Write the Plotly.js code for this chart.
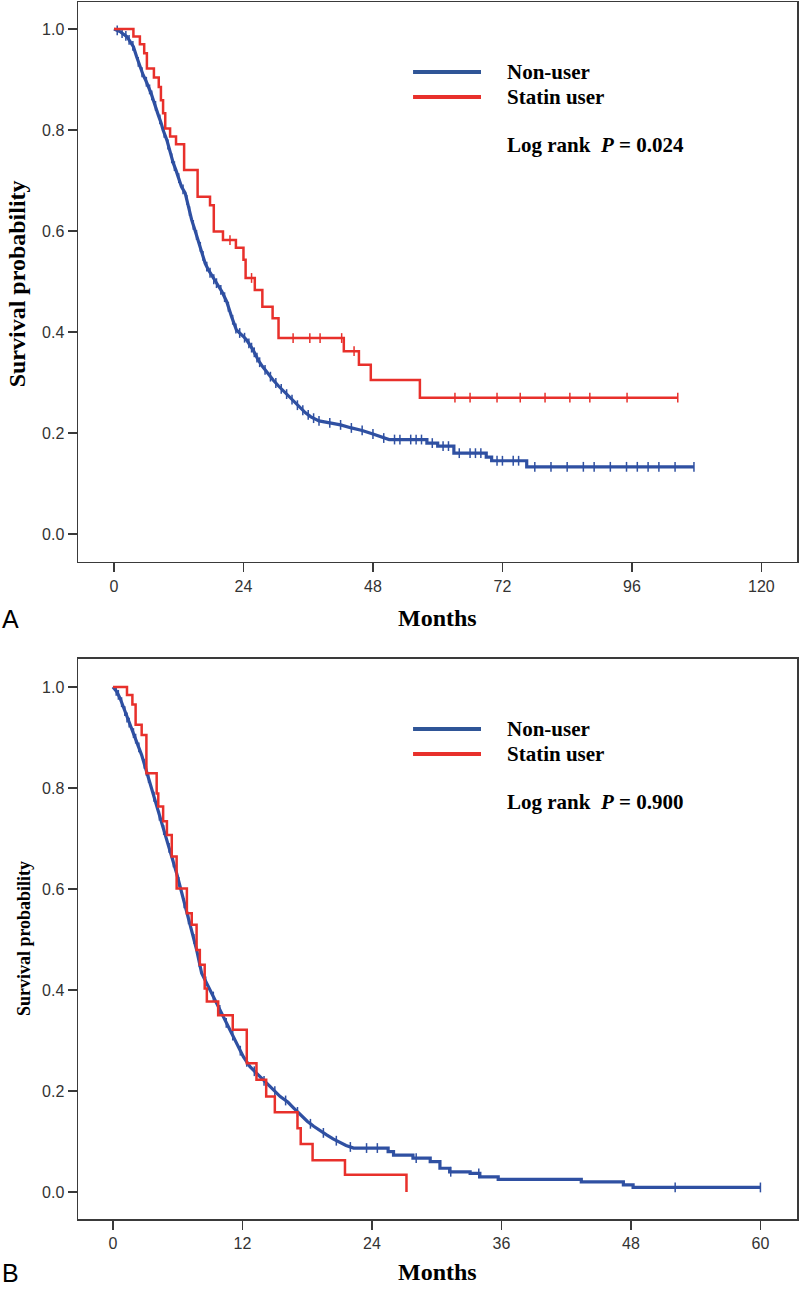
<!DOCTYPE html>
<html>
<head>
<meta charset="utf-8">
<script src="https://cdn.plot.ly/plotly-3.0.1.min.js"></script>
<style>html,body{margin:0;padding:0;background:#fff;}#chart{width:800px;height:1289px;}</style>
</head>
<body>
<div id="chart"></div>
<script>
// ---------- Panel A data (months, survival probability) ----------
const aNonUserT = [0,1.1,2.4,3.0,3.6,4.2,4.8,5.4,5.9,6.4,6.9,7.3,7.8,8.2,8.7,9.1,9.8,10.4,11.0,11.5,11.9,12.5,13.2,13.8,14.4,15.0,15.6,16.2,16.9,17.5,18.4,19.3,20.0,20.9,21.8,22.7,24.0,24.6,25.8,26.7,27.5,28.5,29.5,30.5,31.5,32.5,33.5,34.5,35.5,36.5,38,40,42,44,46,48,50,51,58,58,60,60,63,63,69,69,70,70,76.5,76.5,107.5];
const aNonUserS = [1.0,0.995,0.985,0.975,0.965,0.945,0.925,0.909,0.898,0.886,0.872,0.859,0.845,0.830,0.815,0.800,0.780,0.754,0.734,0.720,0.708,0.688,0.675,0.648,0.622,0.602,0.582,0.562,0.536,0.523,0.506,0.492,0.480,0.460,0.430,0.404,0.391,0.384,0.364,0.345,0.332,0.318,0.305,0.293,0.282,0.272,0.260,0.250,0.240,0.232,0.224,0.220,0.216,0.210,0.205,0.198,0.190,0.187,0.187,0.180,0.180,0.174,0.174,0.160,0.160,0.152,0.152,0.145,0.145,0.133,0.133];
const aNonUserCens = [0.6,1.5,2.2,2.8,3.5,4.5,5.2,6.0,6.6,7.0,7.7,8.5,9.3,10.0,10.7,11.2,12.0,12.8,13.5,14.0,14.7,15.3,16.0,16.5,17.2,17.8,18.5,19.0,19.8,20.5,21.2,22.0,22.6,23.3,24.2,25.0,25.5,26.0,26.5,27.0,28.0,29.0,30.0,31.0,32.0,33.0,34.0,35.0,36.0,37.0,38.0,40.0,42.0,44.0,46.0,48.0,50.0,52.0,53.0,55.0,56.0,57.0,59.0,61.0,62.0,64.0,66.0,67.0,68.0,71.0,72.0,74.0,75.0,78.0,81.0,84.0,87.0,89.0,92.0,95.0,97.0,99.0,101.0,104.0,107.5];

const aStatinT = [0,3.6,4.8,5.6,6.1,7.4,8.3,8.7,9.1,9.5,10.4,11.5,13.0,15.5,17.8,18.5,20.2,22.6,24.0,24.4,26.1,27.5,29.4,30.5,42.6,45.4,47.6,56.7,104.5];
const aStatinS = [1.0,0.985,0.970,0.952,0.922,0.904,0.885,0.859,0.833,0.803,0.787,0.772,0.721,0.668,0.651,0.599,0.582,0.567,0.543,0.507,0.483,0.450,0.427,0.388,0.362,0.335,0.305,0.270,0.270];
const aStatinCens = [21.5,25.5,33.2,36.3,38.2,42.2,44.5,63.2,66.0,71.0,75.3,79.9,84.5,88.2,95.1,104.5];

// ---------- Panel B data ----------
const bNonUserT = [0,0.34,0.65,0.96,1.27,1.73,2.2,2.66,3.12,3.59,4.05,4.51,4.98,5.44,5.9,6.37,6.83,7.29,7.76,8.22,9.0,9.6,10.2,10.84,11.46,12.08,12.7,13.6,14.55,15.5,16.2,16.8,17.4,18.0,18.6,19.2,19.8,20.4,21.0,21.6,22.3,25.5,25.5,26.0,26.0,27.8,27.8,29.4,29.4,30.3,30.3,31.2,31.2,33.1,33.1,34.0,34.0,35.7,35.7,43.4,43.4,47.3,47.3,48.2,48.2,60.0];
const bNonUserS = [1.0,0.991,0.978,0.961,0.941,0.918,0.892,0.865,0.832,0.799,0.763,0.730,0.697,0.664,0.631,0.591,0.552,0.519,0.479,0.433,0.400,0.374,0.347,0.321,0.294,0.268,0.248,0.228,0.209,0.189,0.178,0.165,0.152,0.140,0.130,0.121,0.113,0.105,0.098,0.092,0.087,0.087,0.080,0.080,0.073,0.073,0.067,0.067,0.060,0.060,0.047,0.047,0.040,0.040,0.037,0.037,0.030,0.030,0.025,0.025,0.020,0.020,0.014,0.014,0.009,0.009];
const bNonUserCens = [0.3,0.5,0.8,1.1,1.3,1.5,1.9,2.1,2.4,2.9,3.1,3.3,3.8,4.3,4.7,5.2,5.6,6.1,6.6,7.0,7.5,8.0,8.6,9.3,9.9,10.5,11.1,11.8,12.4,13.1,14.0,15.0,16.0,17.1,18.3,19.5,20.7,22.0,23.5,24.5,28.1,31.3,33.9,52.1,60.0];

const bStatinT = [0,1.3,1.8,2.1,2.66,3.1,4.05,4.2,4.65,5.0,5.45,5.9,6.85,7.3,7.75,8.05,8.5,8.7,9.75,11.1,12.4,13.3,14.2,15.0,17.1,17.4,18.5,21.5,27.2];
const bStatinS = [1.0,0.984,0.965,0.925,0.905,0.829,0.789,0.763,0.734,0.707,0.664,0.601,0.552,0.529,0.479,0.450,0.403,0.377,0.350,0.321,0.255,0.222,0.189,0.158,0.126,0.095,0.063,0.034,0.0];

const aTicks = [0,24,48,72,96,120];
const bTicks = [0,12,24,36,48,60];
const yTicks = [0,0.2,0.4,0.6,0.8,1.0];
const seriesNames = ['Non-user','Statin user'];
const pLabels = ['Log rank  <i>P</i> = 0.024','Log rank  <i>P</i> = 0.900'];

// ---------- helpers ----------
function linAt(t, T, S){
  for(let i=T.length-1;i>=0;i--){ if(T[i]<=t){ if(i===T.length-1) return S[i]; const t0=T[i],t1=T[i+1]; if(t1===t0) return S[i+1]; return S[i]+(S[i+1]-S[i])*(t-t0)/(t1-t0);} }
  return S[0];
}
function stepAt(t, T, S){ let v=S[0]; for(let i=0;i<T.length;i++){ if(T[i]<=t) v=S[i]; } return v; }

const BLUE = '#2f50a2', RED = '#e8302b', AX = '#3a3a3a';
const traces = [];
function addPanel(xa, ya, nT, nS, nC, sT, sS, sC){
  traces.push({x:nT, y:nS, xaxis:xa, yaxis:ya, type:'scatter', mode:'lines', line:{color:BLUE, width:3.2, shape:'linear'}, name:seriesNames[0], showlegend:false, hoverinfo:'skip'});
  traces.push({x:nC, y:nC.map(t=>linAt(t,nT,nS)), xaxis:xa, yaxis:ya, type:'scatter', mode:'markers', marker:{symbol:'line-ns', size:7, line:{color:BLUE, width:1.5}}, showlegend:false, hoverinfo:'skip'});
  traces.push({x:sT, y:sS, xaxis:xa, yaxis:ya, type:'scatter', mode:'lines', line:{color:RED, width:2.5, shape:'hv'}, name:seriesNames[1], showlegend:false, hoverinfo:'skip'});
  if(sC.length) traces.push({x:sC, y:sC.map(t=>stepAt(t,sT,sS)), xaxis:xa, yaxis:ya, type:'scatter', mode:'markers', marker:{symbol:'line-ns', size:7, line:{color:RED, width:1.5}}, showlegend:false, hoverinfo:'skip'});
}
addPanel('x','y',aNonUserT,aNonUserS,aNonUserCens,aStatinT,aStatinS,aStatinCens);
addPanel('x2','y2',bNonUserT,bNonUserS,bNonUserCens,bStatinT,bStatinS,[]);

const tickFont = {family:'Liberation Sans, Arial, sans-serif', size:16, color:'#333'};
function axBase(){ return {showline:true, mirror:true, linecolor:AX, linewidth:1.5, ticks:'outside', ticklen:9, tickwidth:1.5, tickcolor:AX, showgrid:false, zeroline:false, tickfont:tickFont, fixedrange:true}; }

const serifB = {family:'Liberation Serif, Times New Roman, serif', color:'#000'};
const ann = [];
function f(sz){ return Object.assign({size:sz}, serifB); }
// axis titles
ann.push({xref:'paper', yref:'paper', x:-0.0848, y:0.768, text:'<b>Survival probability</b>', textangle:-90, showarrow:false, font:f(24), xanchor:'center', yanchor:'middle'});
ann.push({xref:'paper', yref:'paper', x:-0.0751, y:0.230, text:'<b>Survival probability</b>', textangle:-90, showarrow:false, font:f(18), xanchor:'center', yanchor:'middle'});
ann.push({xref:'paper', yref:'paper', x:0.5, y:0.4938, text:'<b>Months</b>', showarrow:false, font:f(24), xanchor:'center', yanchor:'middle'});
ann.push({xref:'paper', yref:'paper', x:0.5, y:-0.0435, text:'<b>Months</b>', showarrow:false, font:f(24), xanchor:'center', yanchor:'middle'});
// panel labels
ann.push({xref:'paper', yref:'paper', x:-0.0932, y:0.493, text:'A', showarrow:false, font:{family:'Liberation Sans, Arial, sans-serif', size:25, color:'#000'}, xanchor:'center', yanchor:'middle'});
ann.push({xref:'paper', yref:'paper', x:-0.0932, y:-0.0444, text:'B', showarrow:false, font:{family:'Liberation Sans, Arial, sans-serif', size:25, color:'#000'}, xanchor:'center', yanchor:'middle'});
// legends
const legY = [[0.9425,0.9219,0.8825],[0.4026,0.3821,0.3426]];
const shapes = [];
legY.forEach((ly,k)=>{
  ann.push({xref:'paper', yref:'paper', x:0.5939, y:ly[0], text:'<b>'+seriesNames[0]+'</b>', showarrow:false, font:f(21), xanchor:'left', yanchor:'middle'});
  ann.push({xref:'paper', yref:'paper', x:0.5939, y:ly[1], text:'<b>'+seriesNames[1]+'</b>', showarrow:false, font:f(21), xanchor:'left', yanchor:'middle'});
  ann.push({xref:'paper', yref:'paper', x:0.5939, y:ly[2], text:'<b>'+pLabels[k]+'</b>', showarrow:false, font:f(21), xanchor:'left', yanchor:'middle'});
  shapes.push({type:'line', xref:'paper', yref:'paper', x0:0.466, x1:0.5605, y0:ly[0], y1:ly[0], line:{color:'#2f5597', width:4}});
  shapes.push({type:'line', xref:'paper', yref:'paper', x0:0.466, x1:0.5605, y0:ly[1], y1:ly[1], line:{color:RED, width:4}});
});

const layout = {
  width:800, height:1289,
  margin:{l:78, r:3, t:2, b:70},
  paper_bgcolor:'#fff', plot_bgcolor:'#fff',
  showlegend:false,
  xaxis:Object.assign(axBase(), {range:[-6.67,126.6], tickvals:aTicks, ticktext:aTicks.map(String), anchor:'y', domain:[0,1]}),
  yaxis:Object.assign(axBase(), {range:[-0.0554,1.0535], tickvals:yTicks, ticktext:yTicks.map(v=>v.toFixed(1)), anchor:'x', domain:[0.5399,1]}),
  xaxis2:Object.assign(axBase(), {range:[-3.24,63.39], tickvals:bTicks, ticktext:bTicks.map(String), anchor:'y2', domain:[0,1]}),
  yaxis2:Object.assign(axBase(), {range:[-0.0535,1.0554], tickvals:yTicks, ticktext:yTicks.map(v=>v.toFixed(1)), anchor:'x2', domain:[0,0.4602]}),
  annotations:ann, shapes:shapes
};
Plotly.newPlot('chart', traces, layout, {displayModeBar:false, staticPlot:true});
</script>
</body>
</html>
